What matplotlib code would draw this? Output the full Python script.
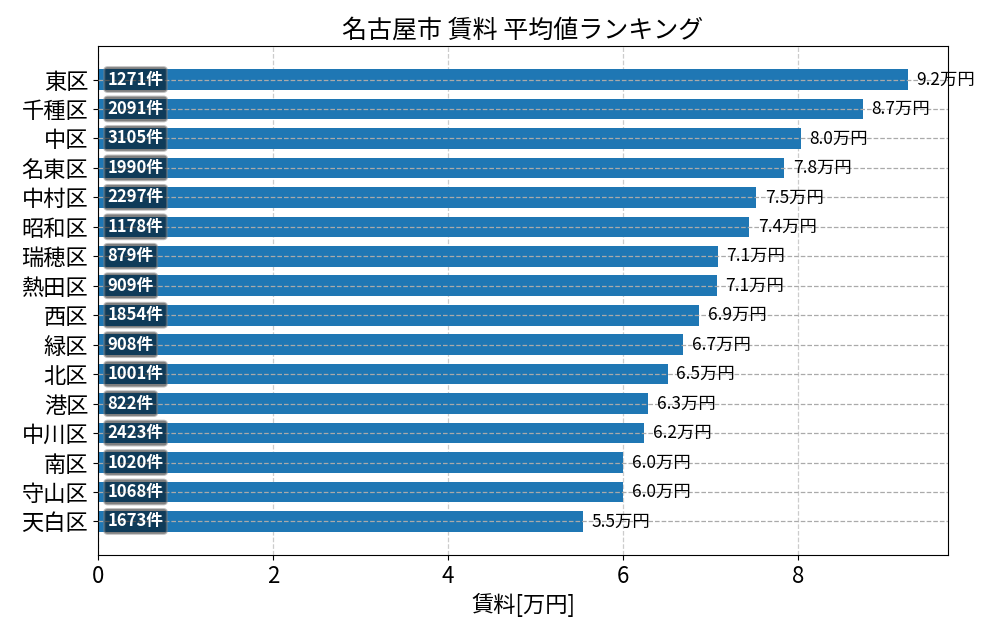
import matplotlib
matplotlib.use('Agg')
import matplotlib.pyplot as plt

plt.rcParams['font.family'] = ['Noto Sans CJK JP', 'DejaVu Sans']

wards = ['東区', '千種区', '中区', '名東区', '中村区', '昭和区', '瑞穂区', '熱田区',
         '西区', '緑区', '北区', '港区', '中川区', '南区', '守山区', '天白区']
rent = [9.25, 8.74, 8.03, 7.84, 7.52, 7.44, 7.08, 7.07,
        6.87, 6.69, 6.51, 6.29, 6.24, 6.00, 6.00, 5.54]
counts = [1271, 2091, 3105, 1990, 2297, 1178, 879, 909,
          1854, 908, 1001, 822, 2423, 1020, 1068, 1673]

fig, ax = plt.subplots(figsize=(10, 6.4), dpi=100)
fig.subplots_adjust(left=0.098, right=0.948, top=0.928, bottom=0.133)

ypos = list(range(len(wards)))
ax.barh(ypos, rent, height=0.7, color='#1f77b4', zorder=2)
ax.set_yticks(ypos)
ax.set_yticklabels(wards, fontsize=16)
ax.invert_yaxis()

for y, v, c in zip(ypos, rent, counts):
    ax.text(v + 0.1, y, '{:.1f}万円'.format(v), va='center', ha='left', fontsize=12.5, zorder=4)
    ax.text(0.11, y, '{}件'.format(c), va='center', ha='left', fontsize=12,
            fontweight='bold', color='white', zorder=5,
            bbox=dict(boxstyle='round,pad=0.2', facecolor='black', alpha=0.5,
                      edgecolor='gray', linewidth=1.5))

ax.set_axisbelow(True)
ax.grid(axis='x', linestyle='--', color='#cccccc', linewidth=0.9)
ax.grid(axis='y', linestyle='--', color='#aaaaaa', linewidth=0.9)
ax.yaxis.set_zorder(3)

ax.tick_params(axis='x', labelsize=16)
ax.set_xlabel('賃料[万円]', fontsize=16)
ax.set_title('名古屋市 賃料 平均値ランキング', fontsize=18)

plt.savefig('out.png')
